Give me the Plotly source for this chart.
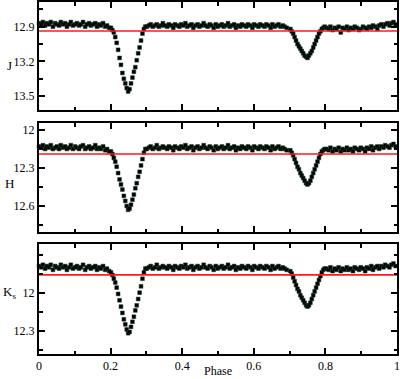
import plotly.graph_objects as go

# ---------------- data ----------------
PHASE = [
    # out of eclipse 0.0-0.2
    0.000, 0.006, 0.011, 0.017, 0.022, 0.028, 0.033, 0.039, 0.045, 0.050,
    0.056, 0.061, 0.067, 0.073, 0.078, 0.084, 0.089, 0.095, 0.101, 0.106,
    0.112, 0.117, 0.123, 0.129, 0.134, 0.140, 0.145, 0.151, 0.157, 0.162,
    0.168, 0.173, 0.179, 0.185, 0.190, 0.196,
    # primary eclipse
    0.201, 0.205, 0.209, 0.213, 0.217, 0.221, 0.225, 0.229, 0.233, 0.237,
    0.241, 0.245, 0.249, 0.253, 0.257, 0.261, 0.265, 0.269, 0.273, 0.277,
    0.281, 0.285, 0.289, 0.293, 0.297,
    # out of eclipse 0.3-0.7
    0.301, 0.307, 0.312, 0.318, 0.324, 0.329, 0.335, 0.341, 0.346, 0.352,
    0.358, 0.363, 0.369, 0.375, 0.380, 0.386, 0.392, 0.397, 0.403, 0.409,
    0.414, 0.420, 0.426, 0.431, 0.437, 0.443, 0.448, 0.454, 0.460, 0.465,
    0.471, 0.477, 0.482, 0.488, 0.494, 0.499, 0.505, 0.511, 0.516, 0.522,
    0.528, 0.533, 0.539, 0.545, 0.550, 0.556, 0.562, 0.567, 0.573, 0.579,
    0.584, 0.590, 0.596, 0.601, 0.607, 0.613, 0.618, 0.624, 0.630, 0.635,
    0.641, 0.647, 0.652, 0.658, 0.664, 0.669, 0.675, 0.681, 0.686, 0.692,
    # secondary eclipse
    0.702, 0.706, 0.710, 0.714, 0.718, 0.722, 0.726, 0.730, 0.734, 0.738,
    0.742, 0.746, 0.750, 0.754, 0.758, 0.762, 0.766, 0.770, 0.774, 0.778,
    0.782, 0.786, 0.790, 0.794, 0.798,
    # out of eclipse 0.8-1.0
    0.803, 0.809, 0.814, 0.820, 0.826, 0.831, 0.837, 0.843, 0.848, 0.854,
    0.860, 0.865, 0.871, 0.877, 0.882, 0.888, 0.894, 0.899, 0.905, 0.911,
    0.916, 0.922, 0.928, 0.933, 0.939, 0.945, 0.950, 0.956, 0.962, 0.967,
    0.973, 0.979, 0.984, 0.990, 0.996,
]

J_MAG = [
    12.87, 12.88, 12.86, 12.89, 12.87, 12.88, 12.86, 12.90, 12.87, 12.88,
    12.89, 12.86, 12.88, 12.87, 12.90, 12.88, 12.86, 12.89, 12.88, 12.87,
    12.89, 12.88, 12.86, 12.90, 12.88, 12.87, 12.89, 12.88, 12.87, 12.90,
    12.88, 12.89, 12.87, 12.90, 12.89, 12.91,
    12.91, 12.93, 12.95, 12.99, 13.04, 13.10, 13.17, 13.23, 13.30, 13.35,
    13.39, 13.43, 13.46, 13.44, 13.39, 13.34, 13.29, 13.25, 13.19, 13.13,
    13.08, 13.02, 12.96, 12.92, 12.90,
    12.90, 12.89, 12.88, 12.90, 12.89, 12.88, 12.90, 12.89, 12.87, 12.89,
    12.90, 12.88, 12.89, 12.91, 12.88, 12.89, 12.90, 12.88, 12.89, 12.87,
    12.90, 12.89, 12.88, 12.91, 12.89, 12.88, 12.90, 12.89, 12.87, 12.89,
    12.90, 12.88, 12.89, 12.91, 12.88, 12.90, 12.89, 12.88, 12.90, 12.89,
    12.87, 12.90, 12.89, 12.88, 12.91, 12.89, 12.90, 12.88, 12.89, 12.90,
    12.88, 12.89, 12.91, 12.88, 12.89, 12.90, 12.88, 12.89, 12.90, 12.88,
    12.89, 12.91, 12.88, 12.90, 12.89, 12.88, 12.90, 12.89, 12.90, 12.91,
    12.92, 12.94, 12.96, 12.99, 13.02, 13.05, 13.07, 13.09, 13.11, 13.13,
    13.15, 13.16, 13.17, 13.15, 13.13, 13.11, 13.08, 13.05, 13.02, 12.99,
    12.96, 12.94, 12.92, 12.91, 12.90,
    12.91, 12.92, 12.90, 12.93, 12.91, 12.92, 12.90, 12.95, 12.91, 12.92,
    12.90, 12.93, 12.91, 12.92, 12.90, 12.91, 12.93, 12.92, 12.90, 12.91,
    12.92, 12.90, 12.91, 12.89, 12.90, 12.92, 12.89, 12.88, 12.90, 12.88,
    12.87, 12.89, 12.87, 12.86, 12.88,
]

H_MAG = [
    12.13, 12.14, 12.12, 12.15, 12.13, 12.14, 12.12, 12.15, 12.14, 12.13,
    12.15, 12.12, 12.14, 12.13, 12.15, 12.14, 12.12, 12.15, 12.13, 12.14,
    12.15, 12.13, 12.12, 12.15, 12.14, 12.13, 12.15, 12.14, 12.12, 12.15,
    12.14, 12.15, 12.13, 12.16, 12.15, 12.17,
    12.17, 12.19, 12.22, 12.25, 12.29, 12.34, 12.39, 12.43, 12.47, 12.52,
    12.56, 12.60, 12.63, 12.62, 12.59, 12.55, 12.51, 12.46, 12.42, 12.37,
    12.33, 12.28, 12.23, 12.18, 12.15,
    12.15, 12.14, 12.13, 12.15, 12.14, 12.12, 12.15, 12.14, 12.13, 12.14,
    12.15, 12.13, 12.14, 12.16, 12.13, 12.14, 12.15, 12.13, 12.14, 12.12,
    12.15, 12.14, 12.13, 12.16, 12.14, 12.13, 12.15, 12.14, 12.12, 12.14,
    12.15, 12.13, 12.14, 12.16, 12.13, 12.15, 12.14, 12.13, 12.15, 12.14,
    12.12, 12.15, 12.14, 12.13, 12.16, 12.14, 12.15, 12.13, 12.14, 12.15,
    12.13, 12.14, 12.16, 12.13, 12.14, 12.15, 12.13, 12.14, 12.15, 12.13,
    12.14, 12.16, 12.13, 12.15, 12.14, 12.13, 12.15, 12.14, 12.15, 12.16,
    12.16, 12.18, 12.20, 12.23, 12.26, 12.29, 12.31, 12.34, 12.36, 12.38,
    12.40, 12.42, 12.43, 12.42, 12.40, 12.37, 12.34, 12.31, 12.28, 12.25,
    12.22, 12.19, 12.17, 12.16, 12.15,
    12.15, 12.16, 12.14, 12.17, 12.15, 12.16, 12.14, 12.17, 12.15, 12.16,
    12.14, 12.16, 12.15, 12.17, 12.14, 12.15, 12.16, 12.14, 12.15, 12.17,
    12.14, 12.15, 12.13, 12.16, 12.14, 12.13, 12.15, 12.13, 12.14, 12.12,
    12.13, 12.14, 12.12, 12.11, 12.13,
]

KS_MAG = [
    11.79, 11.80, 11.78, 11.81, 11.79, 11.80, 11.78, 11.82, 11.79, 11.80,
    11.81, 11.78, 11.80, 11.79, 11.82, 11.80, 11.78, 11.81, 11.80, 11.79,
    11.81, 11.80, 11.78, 11.82, 11.80, 11.79, 11.81, 11.80, 11.79, 11.82,
    11.80, 11.81, 11.79, 11.82, 11.81, 11.83,
    11.84, 11.86, 11.89, 11.92, 11.96, 12.01, 12.06, 12.11, 12.16, 12.21,
    12.25, 12.29, 12.32, 12.31, 12.27, 12.23, 12.19, 12.14, 12.10, 12.05,
    12.00, 11.95, 11.89, 11.84, 11.81,
    11.81, 11.80, 11.79, 11.81, 11.80, 11.78, 11.81, 11.80, 11.79, 11.80,
    11.81, 11.79, 11.80, 11.82, 11.79, 11.80, 11.81, 11.79, 11.80, 11.78,
    11.81, 11.80, 11.79, 11.82, 11.80, 11.79, 11.81, 11.80, 11.78, 11.80,
    11.81, 11.79, 11.80, 11.82, 11.79, 11.81, 11.80, 11.79, 11.81, 11.80,
    11.78, 11.81, 11.80, 11.79, 11.82, 11.80, 11.81, 11.79, 11.80, 11.81,
    11.79, 11.80, 11.82, 11.79, 11.80, 11.81, 11.79, 11.80, 11.81, 11.79,
    11.80, 11.82, 11.79, 11.81, 11.80, 11.79, 11.81, 11.80, 11.81, 11.82,
    11.83, 11.85, 11.88, 11.91, 11.94, 11.97, 11.99, 12.02, 12.04, 12.06,
    12.08, 12.10, 12.11, 12.10, 12.08, 12.05, 12.02, 11.99, 11.96, 11.93,
    11.90, 11.87, 11.84, 11.82, 11.81,
    11.81, 11.82, 11.80, 11.83, 11.81, 11.82, 11.80, 11.83, 11.81, 11.82,
    11.80, 11.82, 11.81, 11.83, 11.80, 11.81, 11.82, 11.80, 11.81, 11.83,
    11.80, 11.81, 11.79, 11.82, 11.80, 11.79, 11.81, 11.79, 11.80, 11.78,
    11.79, 11.80, 11.78, 11.77, 11.79,
]

BANDS = ["J", "H", "K<sub>s</sub>"]
MAGS = [J_MAG, H_MAG, KS_MAG]
REF_LEVEL = [12.937, 12.19, 11.86]          # red reference lines
Y_RANGE = [[13.62, 12.687], [12.805, 11.945], [12.484, 11.616]]
Y_TICKVALS = [[12.9, 13.2, 13.5], [12.0, 12.3, 12.6], [12.0, 12.3]]
Y_TICKTEXT = [["12.9", "13.2", "13.5"], ["12", "12.3", "12.6"], ["12", "12.3"]]
X_TICKS = [0, 0.2, 0.4, 0.6, 0.8, 1]
X_TICKTEXT = ["0", "0.2", "0.4", "0.6", "0.8", "1"]

# ---------------- figure ----------------
W, H = 400, 379
ML, MR, MT, MB = 39, 3, 2, 25
plot_h = H - MT - MB
panel_px = [(2, 110), (123, 232), (244, 354)]   # top/bottom pixel rows of each panel


def dom(top, bot):
    return [(H - MB - bot) / plot_h, (H - MB - top) / plot_h]


FONT = dict(family="Liberation Serif", size=12, color="black")

fig = go.Figure()
for i in range(3):
    sfx = "" if i == 0 else str(i + 1)
    n = min(len(PHASE), len(MAGS[i]))
    fig.add_trace(go.Scatter(
        x=PHASE[:n], y=MAGS[i][:n], mode="markers",
        marker=dict(symbol="square", size=3.8, color="black",
                    line=dict(width=0.5, color="#153a26")),
        xaxis="x" + sfx, yaxis="y" + sfx, showlegend=False, hoverinfo="skip",
        cliponaxis=False))
    fig.add_trace(go.Scatter(
        x=[X_TICKS[0], X_TICKS[-1]], y=[REF_LEVEL[i], REF_LEVEL[i]], mode="lines",
        line=dict(color="#ff1a1a", width=1.6),
        xaxis="x" + sfx, yaxis="y" + sfx, showlegend=False, hoverinfo="skip"))

axis_common = dict(showline=True, linewidth=2, linecolor="black", mirror="allticks",
                   ticks="inside", tickwidth=1.5, tickcolor="black", showgrid=False,
                   zeroline=False, tickfont=FONT, automargin=False)
layout = dict(width=W, height=H, margin=dict(l=ML, r=MR, t=MT, b=MB, autoexpand=False),
              paper_bgcolor="white", plot_bgcolor="white", font=FONT,
              showlegend=False)
for i in range(3):
    sfx = "" if i == 0 else str(i + 1)
    top, bot = panel_px[i]
    layout["xaxis" + sfx] = dict(
        axis_common, domain=[0, 1], range=[0, 1], anchor="y" + sfx,
        tickvals=X_TICKS, ticktext=X_TICKTEXT, ticklen=6,
        minor=dict(ticks="inside", dtick=0.1, tick0=0, ticklen=3.5, tickwidth=1.5,
                   tickcolor="black", showgrid=False),
        showticklabels=(i == 2))
    layout["yaxis" + sfx] = dict(
        axis_common, domain=dom(top, bot), range=Y_RANGE[i], anchor="x" + sfx,
        tickvals=Y_TICKVALS[i], ticktext=Y_TICKTEXT[i], ticklen=6,
        minor=dict(ticks="inside", dtick=0.15, tick0=Y_TICKVALS[i][0], ticklen=3.5,
                   tickwidth=1.5, tickcolor="black", showgrid=False))

fig.update_layout(**layout)

label_y = [66, 183, 292]
for i in range(3):
    fig.add_annotation(text=BANDS[i], xref="paper", yref="paper",
                       x=(9 - ML) / (W - ML - MR), y=(H - MB - label_y[i]) / plot_h,
                       showarrow=False, font=dict(family="Liberation Serif", size=13, color="black"),
                       xanchor="center", yanchor="middle")
fig.add_annotation(text="Phase", xref="paper", yref="paper",
                   x=0.5, y=(H - MB - 371) / plot_h, showarrow=False,
                   font=dict(family="Liberation Serif", size=12, color="black"),
                   xanchor="center", yanchor="middle")

fig.write_html("out.html", config={"displayModeBar": False},
               post_script="document.body.style.margin='0';document.body.style.overflow='hidden';")
